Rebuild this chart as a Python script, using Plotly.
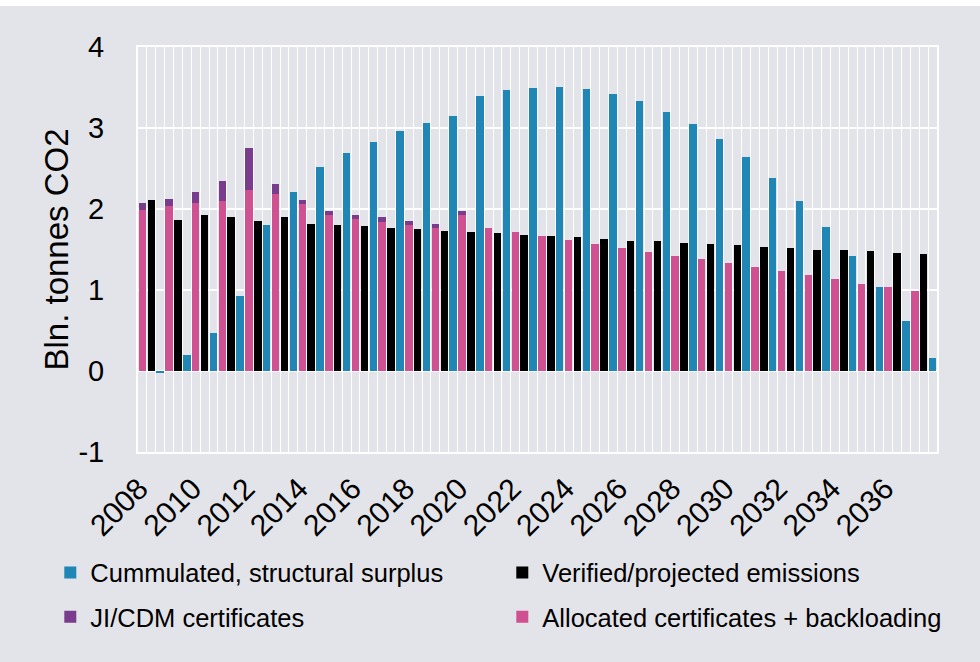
import plotly.graph_objects as go

# ---------------- data ----------------
years = list(range(2008, 2038))
allocated = [1.99, 2.04, 2.07, 2.10, 2.23, 2.18, 2.06, 1.92, 1.88, 1.84,
             1.80, 1.77, 1.92, 1.76, 1.71, 1.67, 1.62, 1.57, 1.52, 1.47,
             1.42, 1.38, 1.33, 1.28, 1.23, 1.19, 1.14, 1.08, 1.04, 0.99]
jicdm = [0.08, 0.08, 0.14, 0.25, 0.52, 0.13, 0.05, 0.05, 0.05, 0.06,
         0.05, 0.045, 0.05, 0, 0, 0, 0, 0, 0, 0,
         0, 0, 0, 0, 0, 0, 0, 0, 0, 0]
emissions = [2.11, 1.87, 1.93, 1.90, 1.85, 1.90, 1.81, 1.80, 1.79, 1.76,
             1.75, 1.73, 1.71, 1.70, 1.68, 1.67, 1.65, 1.63, 1.61, 1.60,
             1.58, 1.57, 1.55, 1.53, 1.52, 1.50, 1.49, 1.48, 1.46, 1.45]
surplus = [-0.03, 0.20, 0.47, 0.92, 1.80, 2.21, 2.52, 2.69, 2.83, 2.96,
           3.06, 3.15, 3.40, 3.47, 3.50, 3.51, 3.48, 3.42, 3.33, 3.20,
           3.05, 2.86, 2.64, 2.38, 2.10, 1.78, 1.42, 1.04, 0.62, 0.16]
tick_years = list(range(2008, 2037, 2))
y_ticks = [-1, 0, 1, 2, 3, 4]
y_tick_text = ["-1", "0", "1", "2", "3", "4"]

# ---------------- style ----------------
BLUE = "#1f86b5"
BLACK = "#000000"
PURPLE = "#7a3c8c"
PINK = "#d05192"
BG = "#e3e4e9"
FONT = "Liberation Sans, Arial, sans-serif"

W, H = 980, 662
L, R, T, B = 137.7, 43.3, 47.4, 210.3
plot_w = W - L - R
plot_h = H - T - B

slot = 1 / 3
bar_w = 0.28

x_pink = [y - slot for y in years]
x_black = list(years)
x_blue = [y + slot for y in years]

fig = go.Figure()
fig.add_bar(x=x_pink, y=allocated, width=bar_w, marker=dict(color=PINK, line_width=0),
            name="Allocated certificates + backloading", legend="legend2",
            legendrank=2, legendgroup="d")
fig.add_bar(x=x_pink, y=jicdm, width=bar_w, marker=dict(color=PURPLE, line_width=0),
            name="JI/CDM certificates", legend="legend",
            legendrank=2, legendgroup="c")
fig.add_bar(x=x_black, y=emissions, width=bar_w, marker=dict(color=BLACK, line_width=0),
            name="Verified/projected emissions", legend="legend2",
            legendrank=1, legendgroup="b")
fig.add_bar(x=x_blue, y=surplus, width=bar_w, marker=dict(color=BLUE, line_width=0),
            name="Cummulated, structural surplus", legend="legend",
            legendrank=1, legendgroup="a")

legend_common = dict(
    orientation="v", xanchor="left", yanchor="top",
    font=dict(family=FONT, size=25.5, color="#000000"),
    bgcolor="rgba(0,0,0,0)", borderwidth=0, tracegroupgap=8,
)

fig.update_layout(
    width=W, height=H,
    margin=dict(l=L, r=R, t=T, b=B, pad=0),
    paper_bgcolor=BG, plot_bgcolor=BG,
    barmode="relative",
    bargap=0,
    font=dict(family=FONT, color="#000000"),
    showlegend=True,
    legend=dict(x=(50 - L) / plot_w, y=1 - (549 - T) / plot_h, **legend_common),
    legend2=dict(x=(502 - L) / plot_w, y=1 - (549 - T) / plot_h, **legend_common),
    xaxis=dict(
        range=[2007.5, 2037.5],
        tickmode="array", tickvals=tick_years, ticktext=[str(v) for v in tick_years],
        tickangle=-45, tickfont=dict(family=FONT, size=30, color="#000000"),
        ticklabelshift=-12, ticklabelstandoff=5,
        showgrid=False, zeroline=False, ticks="",
        showline=True, linecolor="white", linewidth=2, mirror=True,
        minor=dict(tick0=2007.5, dtick=1 / 3, showgrid=True,
                   gridcolor="white", gridwidth=1.3, ticks=""),
    ),
    yaxis=dict(
        range=[-1, 4],
        tickmode="array", tickvals=y_ticks, ticktext=y_tick_text,
        tickfont=dict(family=FONT, size=29, color="#000000"),
        showgrid=True, gridcolor="white", gridwidth=2,
        zeroline=True, zerolinecolor="white", zerolinewidth=2,
        showline=True, linecolor="white", linewidth=2, mirror=True,
        ticks="", ticklabelstandoff=26,
        title=dict(text="Bln. tonnes CO2", font=dict(family=FONT, size=33, color="#000000"),
                   standoff=0),
    ),
    shapes=[dict(type="rect", xref="paper", yref="paper",
                 x0=-0.5, x1=1.5,
                 y0=1 + (T - 6.5) / plot_h, y1=1 + (T + 2) / plot_h,
                 fillcolor="white", line_width=0, layer="above")],
)

fig.write_html("out.html")
